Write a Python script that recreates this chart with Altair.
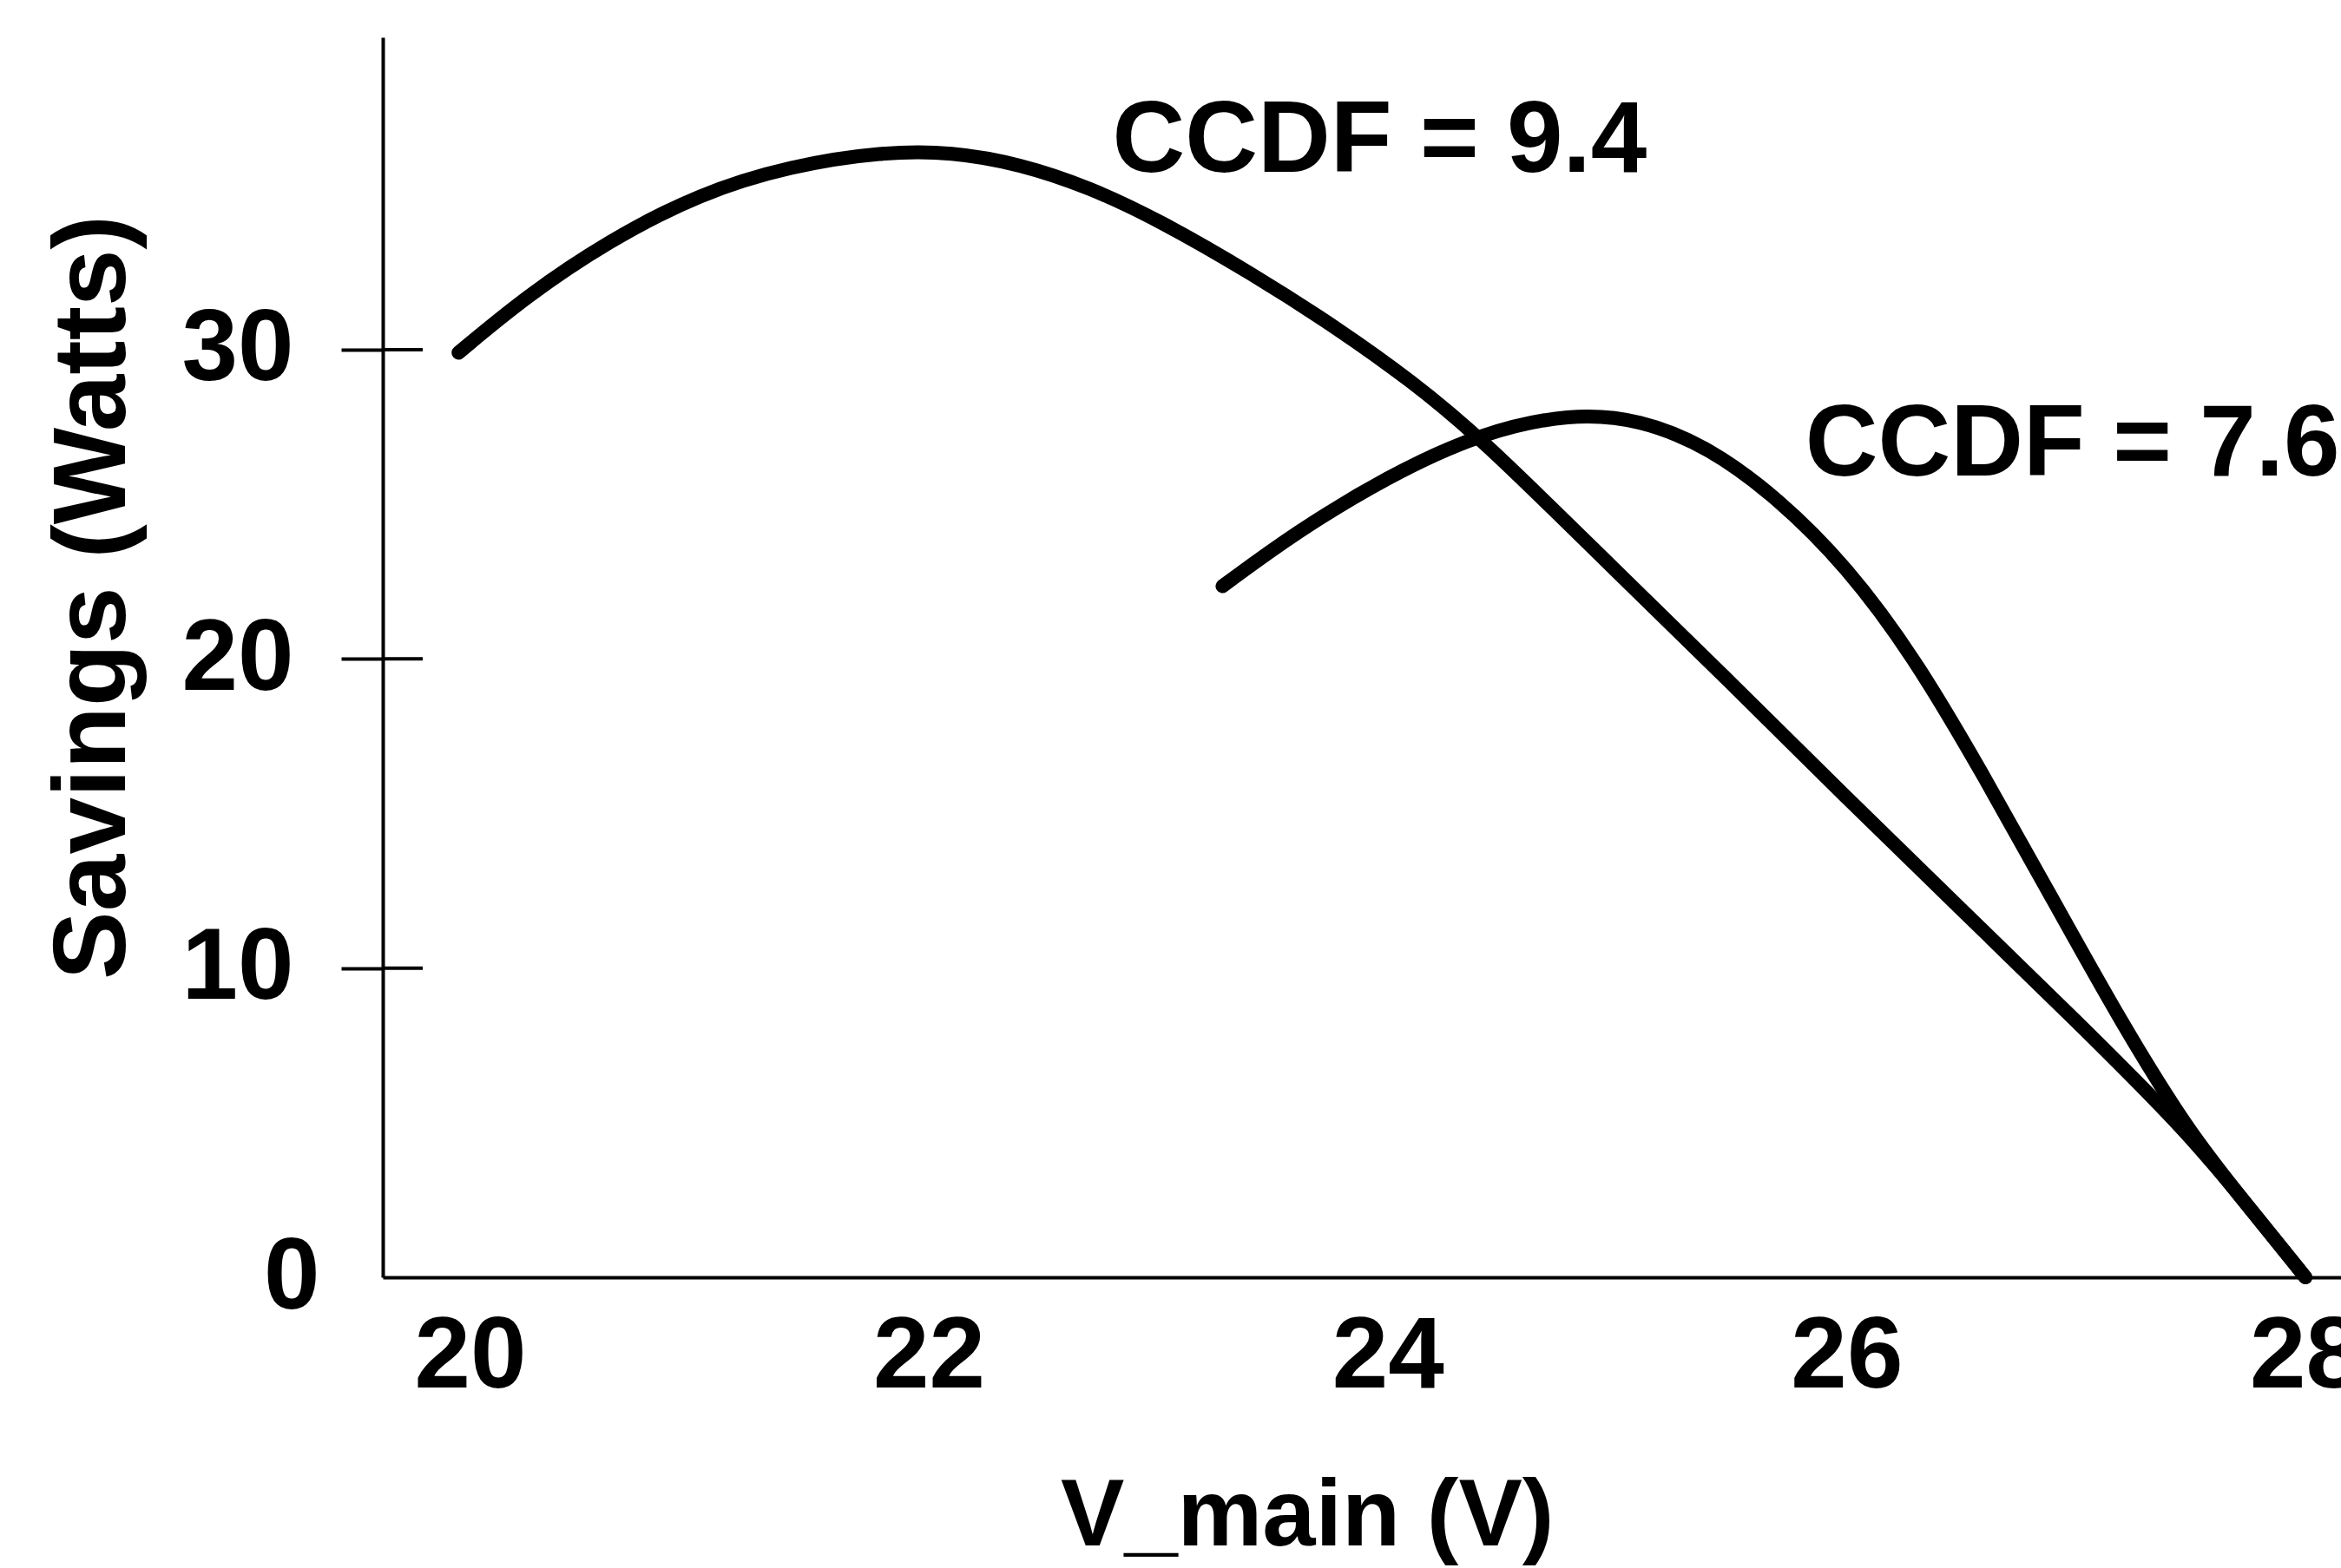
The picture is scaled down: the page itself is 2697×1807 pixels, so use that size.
import altair as alt
import pandas as pd

# Curve for CCDF = 9.4
v_a = [19.95, 20.25, 20.6, 21.0, 21.4, 21.8, 22.1, 22.4, 22.7, 23.0, 23.4, 23.8,
       24.1, 24.4, 25.0, 25.5, 26.0, 26.5, 27.0, 27.5, 27.75, 28.0]
s_a = [29.9, 31.75, 33.5, 35.05, 35.95, 36.4, 36.4, 36.0, 35.25, 34.2, 32.5, 30.6,
       29.0, 27.2, 22.8, 19.2, 15.5, 11.9, 8.3, 4.6, 2.3, 0.0]

# Curve for CCDF = 7.6
v_b = [23.28, 23.6, 24.0, 24.4, 24.8, 25.1, 25.4, 25.7, 26.0, 26.3, 26.6, 26.9,
       27.2, 27.5, 27.75, 28.0]
s_b = [22.35, 24.1, 25.9, 27.3, 27.95, 27.75, 26.85, 25.2, 23.0, 20.0, 16.2, 12.2,
       8.2, 4.6, 2.3, 0.0]

label_text = ["CCDF = 9.4", "CCDF = 7.6"]
label_v = [22.80, 25.82]
label_s = [35.76, 25.93]

x_ticks = [20, 22, 24, 26, 28]
y_ticks = [0, 10, 20, 30]
y_marks = [10, 20, 30]

FONT = "Liberation Sans"
FS = 116

df = pd.DataFrame({
    "v": v_a + v_b,
    "s": s_a + s_b,
    "curve": ["9.4"] * len(v_a) + ["7.6"] * len(v_b),
    "order": list(range(len(v_a))) + list(range(len(v_b))),
})
lab = pd.DataFrame({"text": label_text, "v": label_v, "s": label_s})
tk = pd.DataFrame({"s": y_marks})

xscale = alt.Scale(domain=[19.62, 28.155], nice=False, zero=False)
yscale = alt.Scale(domain=[0, 40.1], nice=False)

xaxis = alt.Axis(
    values=x_ticks, format="d", ticks=False, tickSize=0, grid=False,
    domainColor="black", domainWidth=4,
    labelFont=FONT, labelFontSize=FS, labelFontWeight="bold", labelColor="black",
    labelPadding=34, labelBaseline="top", labelLimit=1000, labelOverlap=False,
    labelFlush=False,
    title="V_main (V)", titleFont=FONT, titleFontSize=110, titleFontWeight="bold",
    titleColor="black", titleX=1349, titleY=308, titleAlign="right",
    titleBaseline="alphabetic", titleLimit=2000,
)
yaxis = alt.Axis(
    values=y_ticks, format="d", grid=False, domainColor="black", domainWidth=4,
    ticks=True, tickSize=48, tickWidth=4, tickColor="black",
    tickOpacity={"condition": {"test": "datum.value === 0", "value": 0}, "value": 1},
    labelFont=FONT, labelFontSize=FS, labelFontWeight="bold", labelColor="black",
    labelPadding={"condition": {"test": "datum.value === 0", "value": 25}, "value": 55},
    labelLimit=1000, labelOverlap=False, labelFlush=False,
    title="Savings (Watts)", titleFont=FONT, titleFontSize=118, titleFontWeight="bold",
    titleColor="black", titleAngle=270, titleX=-298, titleY=645, titleAlign="center",
    titleBaseline="alphabetic", titleLimit=2000,
)

lines = alt.Chart(df).mark_line(
    color="black", strokeWidth=16, strokeCap="round", strokeJoin="round",
    interpolate="basis",
).encode(
    x=alt.X("v:Q", scale=xscale, axis=xaxis),
    y=alt.Y("s:Q", scale=yscale, axis=yaxis),
    detail="curve:N",
    order="order:Q",
)

inner_ticks = alt.Chart(tk).mark_rule(color="black", strokeWidth=4).encode(
    y=alt.Y("s:Q", scale=yscale),
    x=alt.value(0),
    x2=alt.value(46),
)

texts = alt.Chart(lab).mark_text(
    font=FONT, fontSize=FS, fontWeight="bold", color="black",
    align="left", baseline="alphabetic",
).encode(
    x=alt.X("v:Q", scale=xscale),
    y=alt.Y("s:Q", scale=yscale),
    text="text:N",
)

chart = alt.layer(lines, inner_ticks, texts).properties(
    width=2256, height=1429,
    autosize=alt.AutoSizeParams(type="none"),
    padding={"left": 441, "top": 43, "right": 0, "bottom": 335},
    background="white",
).configure_view(stroke=None)

chart.save("out.html", embed_options={"renderer": "svg", "actions": False})
